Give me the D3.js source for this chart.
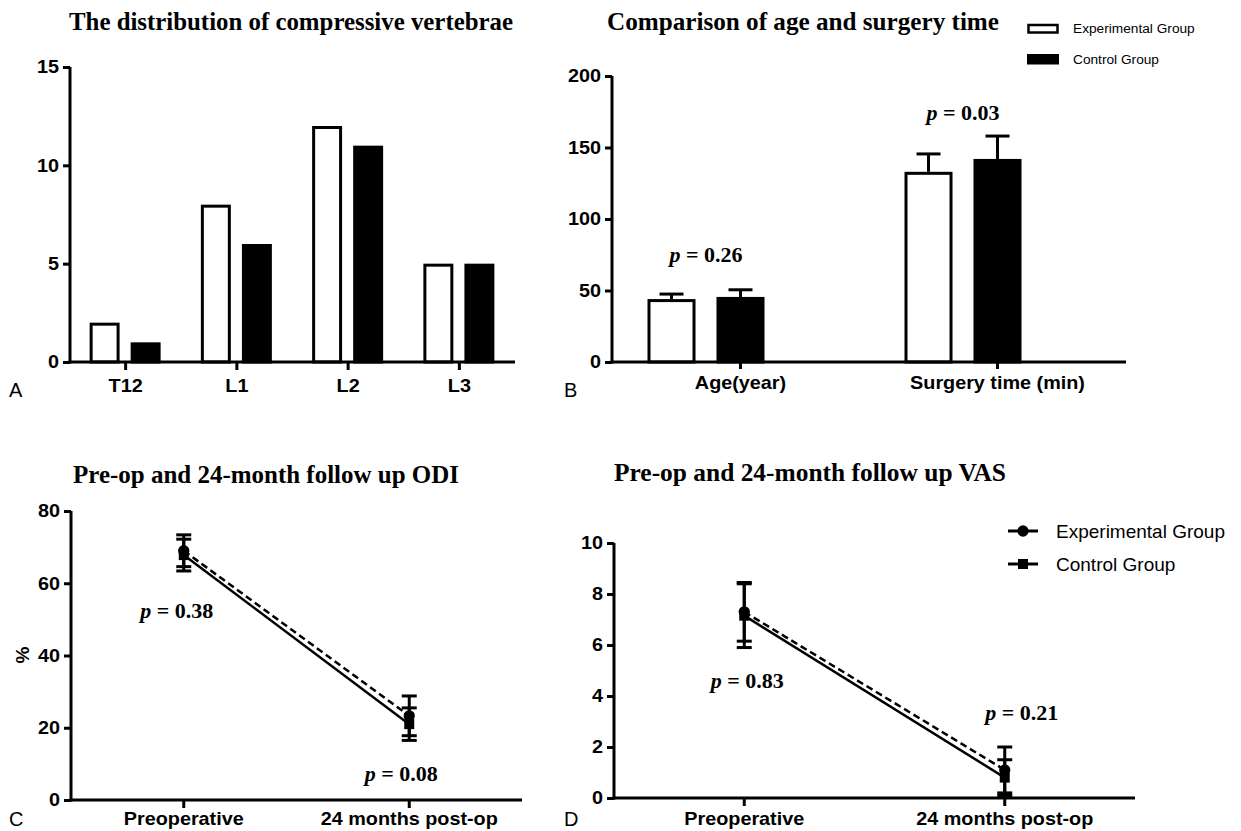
<!DOCTYPE html>
<html><head><meta charset="utf-8">
<script src="https://cdn.jsdelivr.net/npm/d3@7"></script>
<style>
body{margin:0;background:#fff;}
svg{display:block;}
</style></head><body>
<svg id="chart" width="1241" height="831"></svg>
<script>
// ---------------- DATA ----------------
const groups = ["Experimental Group", "Control Group"];

// Panel A
const vertebraeCats = ["T12", "L1", "L2", "L3"];
const vertebraeExp = [2, 8, 12, 5];
const vertebraeCtrl = [1, 6, 11, 5];
const ticksA = [0, 5, 10, 15];

// Panel B
const ageCats = ["Age(year)", "Surgery time (min)"];
const ageExpMean = [44, 133];
const ageExpErr = [3.5, 12.5];
const ageCtrlMean = [45.5, 142];
const ageCtrlErr = [5, 16];
const pAge = ["0.26", "0.03"];
const ticksB = [0, 50, 100, 150, 200];

// Panel C
const timeCats = ["Preoperative", "24 months post-op"];
const odiExpMean = [69.0, 23.3];
const odiExpErr = [4.4, 5.5];
const odiCtrlMean = [67.8, 21.0];
const odiCtrlErr = [4.4, 4.5];
const pODI = ["0.38", "0.08"];
const ticksC = [0, 20, 40, 60, 80];

// Panel D
const vasExpMean = [7.3, 1.1];
const vasExpErr = [1.15, 0.9];
const vasCtrlMean = [7.15, 0.8];
const vasCtrlErr = [1.25, 0.7];
const pVAS = ["0.83", "0.21"];
const ticksD = [0, 2, 4, 6, 8, 10];

// ---------------- DRAW ----------------
const SANS = "'Liberation Sans', Arial, sans-serif";
const SERIF = "'Liberation Serif', 'Times New Roman', serif";
const SX = 1.1; // horizontal stretch of axis lettering, as in the figure
const svg = d3.select("#chart");
svg.append("rect").attr("width", 1241).attr("height", 831).attr("fill", "#fff");

function title(text, cx, y, w) {
  svg.append("text").attr("x", cx).attr("y", y).attr("text-anchor", "middle")
    .attr("font-family", SERIF).attr("font-weight", "bold").attr("font-size", 25)
    .attr("textLength", w).attr("lengthAdjust", "spacingAndGlyphs").text(text);
}
function letter(t, x, y) {
  svg.append("text").attr("x", x).attr("y", y).attr("font-family", SANS)
    .attr("font-size", 20).text(t);
}
function styleAxis(a) {
  a.select(".domain").attr("stroke", "#000").attr("stroke-width", 3);
  a.selectAll(".tick line").attr("stroke", "#000").attr("stroke-width", 3);
  a.selectAll("text").attr("font-family", SANS).attr("font-weight", "bold")
    .attr("font-size", 18).attr("fill", "#000").attr("transform", `scale(${SX},1)`);
}
function yAxis(y, ticks, x0) {
  const a = svg.append("g").attr("transform", `translate(${x0},0)`)
    .call(d3.axisLeft(y).tickValues(ticks).tickSize(7).tickSizeOuter(0).tickPadding(4));
  styleAxis(a);
  a.selectAll(".tick text").attr("x", -11 / SX);
  a.select(".domain").attr("d", `M0,${y.range()[0] + 1.5}V${y.range()[1]}`);
}
function xAxis(x, y0, tick, labelBase) {
  const a = svg.append("g").attr("transform", `translate(0,${y0})`)
    .call(d3.axisBottom(x).tickSize(tick).tickSizeOuter(0));
  styleAxis(a);
  a.select(".domain").attr("d", `M${x.range()[0] - 1.5},0H${x.range()[1]}`);
  a.selectAll(".tick text").attr("y", labelBase).attr("dy", 0);
}
function pLabel(val, cx, y) {
  const t = svg.append("text").attr("x", cx).attr("y", y).attr("text-anchor", "middle")
    .attr("font-family", SERIF).attr("font-weight", "bold").attr("font-size", 22);
  t.append("tspan").attr("font-style", "italic").text("p");
  t.append("tspan").text(" = " + val);
}

// ===== Panel A =====
{
  const x = d3.scaleBand().domain(vertebraeCats).range([70, 515]);
  const xi = d3.scaleBand().domain(groups).range([-36, 35]).paddingInner(0.27);
  const y = d3.scaleLinear().domain([0, 15]).range([362, 67]);
  const rows = [];
  vertebraeCats.forEach((c, i) => {
    rows.push({ c, g: groups[0], v: vertebraeExp[i] });
    rows.push({ c, g: groups[1], v: vertebraeCtrl[i] });
  });
  svg.append("g").selectAll("rect").data(rows).join("rect")
    .attr("x", d => x(d.c) + x.bandwidth() / 2 + xi(d.g) + 1.5)
    .attr("width", xi.bandwidth() - 3)
    .attr("y", d => y(d.v) + 1.5)
    .attr("height", d => y(0) - y(d.v) - 1.5)
    .attr("fill", d => d.g === groups[0] ? "#fff" : "#000")
    .attr("stroke", "#000").attr("stroke-width", 3);
  yAxis(y, ticksA, 70);
  xAxis(x, 362, 8, 30);
  title("The distribution of compressive vertebrae", 291, 30, 444);
  letter("A", 9, 397);
}

// ===== Panel B =====
{
  const x = d3.scaleBand().domain(ageCats).range([612, 1126]);
  const xi = d3.scaleBand().domain(groups).range([-93, 24]).paddingInner(0.304);
  const y = d3.scaleLinear().domain([0, 200]).range([362, 76]);
  const rows = [];
  ageCats.forEach((c, i) => {
    rows.push({ c, g: groups[0], v: ageExpMean[i], e: ageExpErr[i] });
    rows.push({ c, g: groups[1], v: ageCtrlMean[i], e: ageCtrlErr[i] });
  });
  const cx = d => x(d.c) + x.bandwidth() / 2 + xi(d.g) + xi.bandwidth() / 2;
  const eg = svg.append("g").attr("stroke", "#000").attr("stroke-width", 3);
  eg.selectAll("line.v").data(rows).join("line").attr("class", "v")
    .attr("x1", cx).attr("x2", cx).attr("y1", d => y(d.v)).attr("y2", d => y(d.v + d.e));
  eg.selectAll("line.c").data(rows).join("line").attr("class", "c")
    .attr("x1", d => cx(d) - 12).attr("x2", d => cx(d) + 12)
    .attr("y1", d => y(d.v + d.e)).attr("y2", d => y(d.v + d.e));
  svg.append("g").selectAll("rect").data(rows).join("rect")
    .attr("x", d => x(d.c) + x.bandwidth() / 2 + xi(d.g) + 1.5)
    .attr("width", xi.bandwidth() - 3)
    .attr("y", d => y(d.v) + 1.5)
    .attr("height", d => y(0) - y(d.v) - 1.5)
    .attr("fill", d => d.g === groups[0] ? "#fff" : "#000")
    .attr("stroke", "#000").attr("stroke-width", 3);
  yAxis(y, ticksB, 612);
  xAxis(x, 362, 7, 27);
  const gc = c => x(c) + x.bandwidth() / 2 + (xi.range()[0] + xi.range()[1]) / 2;
  pLabel(pAge[0], gc(ageCats[0]), y(70));
  pLabel(pAge[1], gc(ageCats[1]), y(169));
  title("Comparison of age and surgery time", 803, 30, 392);
  letter("B", 564, 397);
  // legend
  const lg = svg.append("g");
  lg.append("rect").attr("x", 1028.5).attr("y", 25).attr("width", 29).attr("height", 7.5)
    .attr("fill", "#fff").attr("stroke", "#000").attr("stroke-width", 2.5);
  lg.append("rect").attr("x", 1027).attr("y", 54).attr("width", 32).attr("height", 10.5)
    .attr("fill", "#000");
  lg.selectAll("text").data(groups).join("text")
    .attr("x", 1073).attr("y", (d, i) => 33 + i * 31)
    .attr("font-family", SANS).attr("font-size", 13.7).text(d => d);
}

// ===== Line panels =====
function linePanel(cfg) {
  const x = d3.scaleBand().domain(timeCats).range(cfg.xr);
  const y = d3.scaleLinear().domain(cfg.yd).range(cfg.yr);
  const px = c => x(c) + x.bandwidth() / 2;
  const series = [
    { g: groups[0], m: cfg.expM, e: cfg.expE, dash: "7,4", sym: d3.symbolCircle },
    { g: groups[1], m: cfg.ctrlM, e: cfg.ctrlE, dash: null, sym: d3.symbolSquare }
  ];
  yAxis(y, cfg.ticks, cfg.xr[0]);
  xAxis(x, cfg.yr[0], 8, cfg.lb);
  series.forEach(s => {
    const pts = timeCats.map((c, i) => ({ c, m: s.m[i], e: s.e[i] }));
    const eg = svg.append("g").attr("stroke", "#000").attr("stroke-width", 3);
    eg.selectAll("line.v").data(pts).join("line").attr("class", "v")
      .attr("x1", d => px(d.c)).attr("x2", d => px(d.c))
      .attr("y1", d => y(Math.max(0, d.m - d.e))).attr("y2", d => y(d.m + d.e));
    [1, -1].forEach(sg => {
      eg.selectAll("line.c" + (sg > 0 ? "u" : "d")).data(pts).join("line").attr("class", "c" + (sg > 0 ? "u" : "d"))
        .attr("x1", d => px(d.c) - 7.5).attr("x2", d => px(d.c) + 7.5)
        .attr("y1", d => y(Math.max(0, d.m + sg * d.e))).attr("y2", d => y(Math.max(0, d.m + sg * d.e)));
    });
    svg.append("path").datum(pts)
      .attr("d", d3.line().x(d => px(d.c)).y(d => y(d.m)))
      .attr("fill", "none").attr("stroke", "#000").attr("stroke-width", 2.5)
      .attr("stroke-dasharray", s.dash);
    svg.append("g").selectAll("path").data(pts).join("path")
      .attr("transform", d => `translate(${px(d.c)},${y(d.m)})`)
      .attr("d", d3.symbol(s.sym, 100)).attr("fill", "#000");
  });
  cfg.p.forEach((pv, i) => pLabel(pv, px(timeCats[i]) + cfg.pdx[i], y(cfg.py[i])));
  return { x, y };
}

// ===== Panel C =====
linePanel({
  xr: [71, 522], yr: [800, 511], yd: [0, 80], ticks: ticksC, lb: 25,
  expM: odiExpMean, expE: odiExpErr, ctrlM: odiCtrlMean, ctrlE: odiCtrlErr,
  p: pODI, pdx: [-7, -8], py: [50.4, 5.3]
});
svg.append("text").attr("transform", "translate(29,655) rotate(-90)")
  .attr("text-anchor", "middle").attr("font-family", SANS).attr("font-weight", "bold")
  .attr("font-size", 19).text("%");
title("Pre-op and 24-month follow up ODI", 266, 483, 386);
letter("C", 9, 826);

// ===== Panel D =====
linePanel({
  xr: [614, 1135], yr: [798, 543], yd: [0, 10], ticks: ticksD, lb: 27,
  expM: vasExpMean, expE: vasExpErr, ctrlM: vasCtrlMean, ctrlE: vasCtrlErr,
  p: pVAS, pdx: [3, 17], py: [4.33, 3.07]
});
title("Pre-op and 24-month follow up VAS", 810, 481, 392);
letter("D", 564, 826);
{
  const lg = svg.append("g");
  const syms = [d3.symbolCircle, d3.symbolSquare];
  groups.forEach((g, i) => {
    const yy = 531 + i * 33;
    lg.append("line").attr("x1", 1008).attr("x2", 1038).attr("y1", yy).attr("y2", yy)
      .attr("stroke", "#000").attr("stroke-width", 3)
      .attr("stroke-dasharray", i === 0 ? "10,3,4,3,10" : null);
    lg.append("path").attr("transform", `translate(1023,${yy})`)
      .attr("d", d3.symbol(syms[i], 100)).attr("fill", "#000");
    lg.append("text").attr("x", 1056).attr("y", yy + 6.5).attr("font-family", SANS)
      .attr("font-size", 19).text(g);
  });
}
</script>
</body></html>
